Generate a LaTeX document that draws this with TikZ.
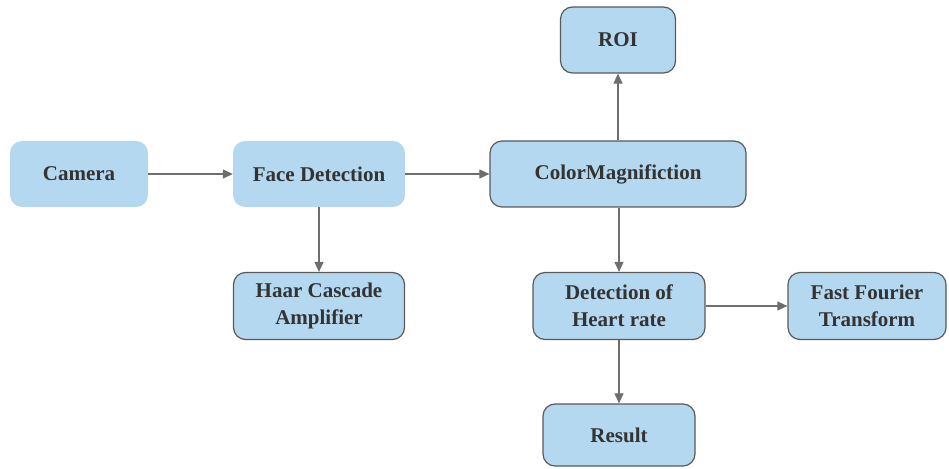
\documentclass[tikz,border=0pt]{standalone}
\usepackage{fontspec}
\setmainfont{Liberation Serif}
\usetikzlibrary{arrows.meta}
\definecolor{boxfill}{HTML}{B4D8EF}
\definecolor{boxline}{HTML}{5A5A5A}
\definecolor{arrowc}{HTML}{6E6E6E}
\begin{document}
\begin{tikzpicture}[x=1pt,y=1pt,
  base/.style={fill=boxfill, rounded corners=12pt, align=center, inner sep=0pt,
    font=\fontsize{21}{27}\selectfont\bfseries, text=black!80},
  plain/.style={base, draw=none},
  framed/.style={base, draw=boxline, line width=1.2pt},
  conn/.style={draw=arrowc, line width=1.1pt, -{Triangle[length=10pt,width=9pt]}}]
\useasboundingbox (0,0) rectangle (949,468);
\node[plain, minimum width=138pt, minimum height=66pt] (cam) at (79,294) {Camera};
\node[plain, minimum width=172pt, minimum height=66pt] (face) at (319,294) {Face Detection};
\node[framed, minimum width=256pt, minimum height=66pt] (color) at (618,294) {ColorMagnifiction};
\node[framed, minimum width=115pt, minimum height=66pt] (roi) at (618,428) {ROI};
\node[framed, minimum width=171pt, minimum height=67pt] (haar) at (319,162) {Haar Cascade\\Amplifier};
\node[framed, minimum width=172pt, minimum height=67pt] (heart) at (619,162) {Detection of\\Heart rate};
\node[framed, minimum width=158pt, minimum height=67pt] (fft) at (867,162) {Fast Fourier\\Transform};
\node[framed, minimum width=152pt, minimum height=62pt] (res) at (619,33) {Result};
\draw[conn] (cam) -- (face);
\draw[conn] (face) -- (color);
\draw[conn] (color) -- (roi);
\draw[conn] (face) -- (haar);
\draw[conn] (color.south -| heart.north) -- (heart);
\draw[conn] (heart) -- (fft);
\draw[conn] (heart) -- (res);
\end{tikzpicture}
\end{document}
